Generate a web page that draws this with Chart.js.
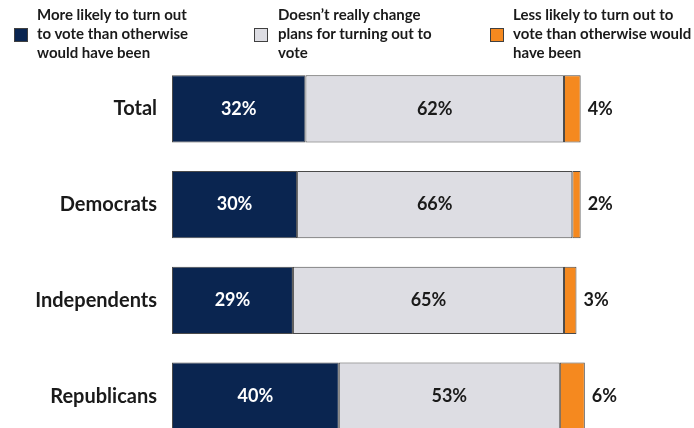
<!DOCTYPE html>
<html>
<head>
<meta charset="utf-8">
<script src="https://cdn.jsdelivr.net/npm/chart.js@4/dist/chart.umd.min.js"></script>
<style>
  html, body { margin: 0; padding: 0; background: #fff; overflow: hidden; }
  #wrap { position: relative; width: 694px; height: 471px; }
  #chart { display: block; }
  .legend-item { position: absolute; top: 5px; font: bold 15px Lato, sans-serif; color: #1a1a1a; line-height: 19px; white-space: nowrap; }
  .legend-box { position: absolute; width: 12px; height: 12px; border: 1px solid #404040; top: 28px; }
</style>
</head>
<body>
<div id="wrap">
  <canvas id="chart" width="694" height="471"></canvas>
  <div id="legend"></div>
</div>
<script>
const categories = ["Total", "Democrats", "Independents", "Republicans"];
const seriesNames = [
  ["More likely to turn out", "to vote than otherwise", "would have been"],
  ["Doesn\u2019t really change", "plans for turning out to", "vote"],
  ["Less likely to turn out to", "vote than otherwise would", "have been"],
];
const moreLikely = [32, 30, 29, 40];
const noChange = [62, 66, 65, 53];
const lessLikely = [4, 2, 3, 6];
const colors = ["#0a2550", "#dddde3", "#f5891f"];

// html legend
const legendEl = document.getElementById("legend");
const boxLeft = [14, 254, 490];
const textLeft = [37, 278, 513];
seriesNames.forEach(function (lines, i) {
  const box = document.createElement("div");
  box.className = "legend-box";
  box.style.left = boxLeft[i] + "px";
  box.style.background = colors[i];
  legendEl.appendChild(box);
  const txt = document.createElement("div");
  txt.className = "legend-item";
  txt.style.left = textLeft[i] + "px";
  txt.innerHTML = lines.join("<br>");
  legendEl.appendChild(txt);
});

const valueLabels = {
  id: "valueLabels",
  afterDatasetsDraw(chart) {
    const ctx = chart.ctx;
    ctx.save();
    ctx.font = "bold 18px Lato, sans-serif";
    ctx.textBaseline = "middle";
    chart.data.datasets.forEach(function (ds, di) {
      const meta = chart.getDatasetMeta(di);
      meta.data.forEach(function (bar, i) {
        const txt = ds.data[i] + "%";
        if (di < 2) {
          ctx.textAlign = "center";
          ctx.fillStyle = di === 0 ? "#ffffff" : "#1a1a1a";
          ctx.fillText(txt, (bar.x + bar.base) / 2, bar.y);
        } else {
          ctx.textAlign = "left";
          ctx.fillStyle = "#1a1a1a";
          ctx.fillText(txt, bar.x + 7, bar.y);
        }
      });
    });
    ctx.restore();
  },
};

const chartData = {
  labels: categories,
  datasets: [
    { label: seriesNames[0].join(" "), data: moreLikely, backgroundColor: colors[0] },
    { label: seriesNames[1].join(" "), data: noChange, backgroundColor: colors[1] },
    { label: seriesNames[2].join(" "), data: lessLikely, backgroundColor: colors[2] },
  ].map(function (d) {
    d.borderColor = "#4a4a4a";
    d.borderWidth = 1;
    d.borderSkipped = false;
    d.categoryPercentage = 1;
    d.barPercentage = 0.7;
    return d;
  }),
};

const chart = new Chart(document.getElementById("chart"), {
  type: "bar",
  data: chartData,
  options: {
    indexAxis: "y",
    responsive: false,
    animation: false,
    layout: { padding: { top: 61, right: 105, bottom: 15, left: 0 } },
    plugins: { legend: { display: false }, tooltip: { enabled: false } },
    scales: {
      x: { stacked: true, min: 0, max: 100, display: false },
      y: {
        stacked: true,
        grid: { display: false, drawTicks: false },
        border: { display: false },
        afterFit: function (scale) { scale.width = 172; },
        ticks: {
          padding: 15,
          color: "#1a1a1a",
          font: { family: "Lato, sans-serif", size: 20, weight: "bold" },
        },
      },
    },
  },
  plugins: [valueLabels],
});
</script>
</body>
</html>
